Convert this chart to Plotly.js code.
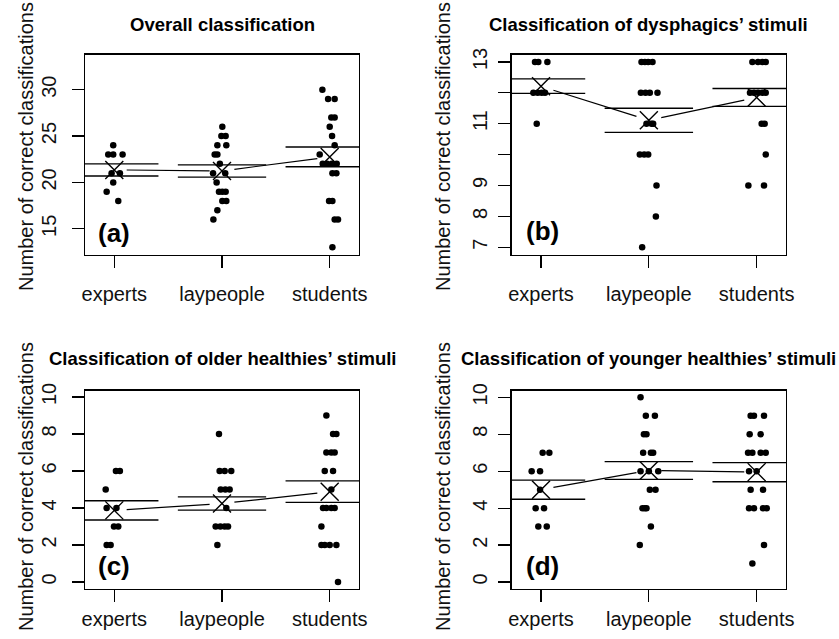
<!DOCTYPE html>
<html>
<head>
<meta charset="utf-8">
<script src="https://cdn.plot.ly/plotly-3.0.1.min.js"></script>
<style>html,body{margin:0;padding:0;background:#fff;}#chart{width:839px;height:639px;}</style>
</head>
<body>
<div id="chart"></div>
<script>
// ---------------- DATA ----------------
const groups = ["experts", "laypeople", "students"];
const groupPos = [1, 2, 3];

// (a) Overall classification
const overallExperts    = [24, 23, 23, 23, 21, 21, 20, 19, 18];
const overallExpertsJit = [-0.01, -0.056, -0.01, 0.077, -0.025, 0.052, -0.01, -0.071, 0.037];
const overallLay        = [26, 25, 25, 24, 24, 23, 23, 22, 21, 21, 20, 19, 19, 19, 18, 18, 17, 16];
const overallLayJit     = [0.003, -0.006, 0.034, -0.043, 0.04, -0.068, -0.043, -0.02, -0.083, 0.03, -0.05, -0.028, 0.003, 0.034, 0.003, 0.04, -0.043, -0.08];
const overallStud       = [30, 29, 29, 27, 27, 26, 25, 24, 23, 22, 22, 22, 22, 21, 21, 18, 18, 16, 16, 13];
const overallStudJit    = [-0.068, -0.015, 0.046, 0.015, 0.046, 0, 0.022, 0.046, -0.093, -0.065, -0.025, 0.02, 0.065, 0.025, 0.062, -0.006, 0.025, 0.046, 0.077, 0.025];
const overallMean  = [21.35, 21.24, 22.75];
const overallUpper = [22.01, 21.90, 23.82];
const overallLower = [20.69, 20.58, 21.69];

// (b) Classification of dysphagics' stimuli
const dysExperts    = [13, 13, 13, 12, 12, 12, 12, 11];
const dysExpertsJit = [-0.056, -0.025, 0.059, -0.071, -0.031, 0.006, 0.037, -0.04];
const dysLay        = [13, 13, 13, 13, 12, 12, 12, 12, 11, 11, 11, 10, 10, 10, 9, 8, 7];
const dysLayJit     = [-0.068, -0.037, -0.006, 0.034, -0.074, -0.031, 0.009, 0.08, -0.022, 0.025, 0.04, -0.084, -0.043, -0.006, 0.071, 0.065, -0.062];
const dysStud       = [13, 13, 13, 13, 12, 12, 12, 12, 12, 11, 11, 10, 9, 9];
const dysStudJit    = [-0.04, 0.012, 0.053, 0.084, -0.062, -0.025, 0.012, 0.053, 0.084, 0.046, 0.074, 0.084, -0.077, 0.068];
const dysMean  = [12.21, 11.11, 11.85];
const dysUpper = [12.45, 11.50, 12.14];
const dysLower = [11.98, 10.72, 11.56];

// (c) Classification of older healthies' stimuli
const oldExperts    = [6, 6, 5, 4, 4, 3, 3, 2, 2];
const oldExpertsJit = [0.015, 0.052, -0.08, -0.071, 0.02, -0.003, 0.037, -0.071, -0.034];
const oldLay        = [8, 6, 6, 6, 5, 5, 5, 4, 3, 3, 3, 3, 2];
const oldLayJit     = [-0.028, -0.022, 0.025, 0.086, -0.012, 0.031, 0.071, 0.04, -0.059, -0.015, 0.025, 0.056, -0.043];
const oldStud       = [9, 8, 8, 7, 7, 7, 6, 6, 5, 4, 4, 4, 4, 3, 2, 2, 2, 2, 0];
const oldStudJit    = [-0.031, 0.031, 0.062, -0.031, 0.015, 0.046, -0.046, 0.031, 0.015, -0.062, -0.031, 0.015, 0.046, -0.077, -0.077, -0.046, 0, 0.062, 0.077];
const oldMean  = [3.87, 4.24, 4.88];
const oldUpper = [4.39, 4.60, 5.47];
const oldLower = [3.35, 3.88, 4.30];

// (d) Classification of younger healthies' stimuli
const youngExperts    = [7, 7, 6, 6, 5, 4, 4, 3, 3];
const youngExpertsJit = [0.015, 0.077, -0.087, -0.009, -0.009, -0.05, 0.028, -0.025, 0.053];
const youngLay        = [10, 9, 9, 8, 8, 7, 7, 7, 6, 6, 6, 5, 5, 4, 4, 4, 3, 2];
const youngLayJit     = [-0.077, -0.028, 0.056, -0.046, -0.022, -0.053, 0.019, 0.04, -0.077, 0, 0.087, 0.009, 0.062, -0.059, -0.037, -0.022, 0.019, -0.084];
const youngStud       = [9, 9, 9, 8, 8, 7, 7, 7, 7, 6, 6, 5, 5, 4, 4, 4, 4, 2, 1];
const youngStudJit    = [-0.056, -0.025, 0.068, -0.065, 0.037, -0.08, -0.04, 0.037, 0.084, -0.071, 0, -0.056, 0.059, -0.071, -0.025, 0.059, 0.093, 0.068, -0.04];
const youngMean  = [5.00, 6.04, 5.95];
const youngUpper = [5.52, 6.52, 6.46];
const youngLower = [4.48, 5.56, 5.43];

const panelTitles = ["Overall classification", "Classification of dysphagics\u2019 stimuli",
                     "Classification of older healthies\u2019 stimuli", "Classification of younger healthies\u2019 stimuli"];
const panelTags = ["(a)", "(b)", "(c)", "(d)"];
const yLabel = "Number of correct classifications";

// ---------------- LAYOUT GEOMETRY ----------------
const W = 839, H = 639;
const px = v => v / W;
const py = v => 1 - v / H;
const FONT = "Liberation Sans, Arial, Helvetica, sans-serif";

const panels = [
  { scores: [overallExperts, overallLay, overallStud], jit: [overallExpertsJit, overallLayJit, overallStudJit],
    mean: overallMean, upper: overallUpper, lower: overallLower,
    xk: "x", yk: "y", xdom: [85, 359], ydom: [54.5, 254.7], yrange: [12.2, 33.8],
    yticks: [15, 20, 25, 30], ytext: ["15", "20", "25", "30"],
    titleX: 222, titleY: 24.5, ylabX: 26, ylabY: 147, tagX: 96, tagY: 233, xstand: 9, ystand: 8 },
  { scores: [dysExperts, dysLay, dysStud], jit: [dysExpertsJit, dysLayJit, dysStudJit],
    mean: dysMean, upper: dysUpper, lower: dysLower,
    xk: "x2", yk: "y2", xdom: [511.7, 786], ydom: [54.5, 254.7], yrange: [6.76, 13.24],
    yticks: [7, 8, 9, 10, 11, 12, 13], ytext: ["7", "8", "9", "", "11", "", "13"],
    titleX: 648, titleY: 24.5, ylabX: 443, ylabY: 147, tagX: 524, tagY: 231, xstand: 9, ystand: 3 },
  { scores: [oldExperts, oldLay, oldStud], jit: [oldExpertsJit, oldLayJit, oldStudJit],
    mean: oldMean, upper: oldUpper, lower: oldLower,
    xk: "x3", yk: "y3", xdom: [85, 359], ydom: [390.7, 589], yrange: [-0.38, 10.34],
    yticks: [0, 2, 4, 6, 8, 10], ytext: ["0", "2", "4", "6", "8", "10"],
    titleX: 222, titleY: 358.5, ylabX: 26, ylabY: 487, tagX: 96, tagY: 566, xstand: 0, ystand: 8 },
  { scores: [youngExperts, youngLay, youngStud], jit: [youngExpertsJit, youngLayJit, youngStudJit],
    mean: youngMean, upper: youngUpper, lower: youngLower,
    xk: "x4", yk: "y4", xdom: [511.7, 786], ydom: [390.7, 589], yrange: [-0.38, 10.36],
    yticks: [0, 2, 4, 6, 8, 10], ytext: ["0", "2", "4", "6", "8", "10"],
    titleX: 648, titleY: 358.5, ylabX: 443, ylabY: 487, tagX: 524, tagY: 566, xstand: 0, ystand: 3 }
];

const CI_HALF = 0.41;   // half-length of the horizontal interval lines
const GAP = 0.115;      // fraction of segment left open around each mean marker

const traces = [];
const layout = {
  width: W, height: H, margin: { l: 0, r: 0, t: 0, b: 0 },
  paper_bgcolor: "#ffffff", plot_bgcolor: "#ffffff",
  showlegend: false, font: { family: FONT, color: "#000" },
  annotations: []
};

panels.forEach((p, i) => {
  // jittered points
  const xs = [], ys = [];
  p.scores.forEach((vals, g) => vals.forEach((v, k) => { xs.push(groupPos[g] + p.jit[g][k]); ys.push(v); }));
  traces.push({ type: "scatter", mode: "markers", x: xs, y: ys, xaxis: p.xk, yaxis: p.yk,
    marker: { color: "#000", size: 6.5, line: { width: 0 } }, hoverinfo: "skip" });

  // interval lines (upper and lower) per group
  const lx = [], ly = [];
  groupPos.forEach((g, j) => {
    [p.upper[j], p.lower[j]].forEach(v => { lx.push(g - CI_HALF, g + CI_HALF, null); ly.push(v, v, null); });
  });
  traces.push({ type: "scatter", mode: "lines", x: lx, y: ly, xaxis: p.xk, yaxis: p.yk,
    line: { color: "#000", width: 1.3 }, hoverinfo: "skip", connectgaps: false });

  // line joining means, with gaps around the markers
  const mx = [], my = [];
  for (let j = 0; j < groupPos.length - 1; j++) {
    const x0 = groupPos[j], x1 = groupPos[j + 1], y0 = p.mean[j], y1 = p.mean[j + 1];
    mx.push(x0 + GAP * (x1 - x0), x1 - GAP * (x1 - x0), null);
    my.push(y0 + GAP * (y1 - y0), y1 - GAP * (y1 - y0), null);
  }
  traces.push({ type: "scatter", mode: "lines", x: mx, y: my, xaxis: p.xk, yaxis: p.yk,
    line: { color: "#000", width: 1.2 }, hoverinfo: "skip", connectgaps: false });

  // mean markers
  traces.push({ type: "scatter", mode: "markers", x: groupPos, y: p.mean, xaxis: p.xk, yaxis: p.yk,
    marker: { symbol: "x-thin-open", size: 18, color: "#000", line: { color: "#000", width: 1.4 } },
    hoverinfo: "skip" });

  const xName = "xaxis" + (i === 0 ? "" : (i + 1));
  const yName = "yaxis" + (i === 0 ? "" : (i + 1));
  layout[xName] = {
    domain: [px(p.xdom[0]), px(p.xdom[1])], anchor: p.yk, range: [0.728, 3.272],
    tickvals: groupPos, ticktext: groups, ticks: "outside", ticklen: 12, tickwidth: 1.2, tickcolor: "#000",
    showline: true, linecolor: "#000", linewidth: 1.4, mirror: true, showgrid: false, zeroline: false,
    tickfont: { family: FONT, size: 20, color: "#111" }, ticklabelstandoff: p.xstand, fixedrange: true
  };
  layout[yName] = {
    domain: [py(p.ydom[1]), py(p.ydom[0])], anchor: p.xk, range: p.yrange,
    tickvals: p.yticks, ticktext: p.ytext, tickangle: -90, ticks: "outside", ticklen: 12, tickwidth: 1.2, tickcolor: "#000",
    showline: true, linecolor: "#000", linewidth: 1.4, mirror: true, showgrid: false, zeroline: false,
    tickfont: { family: FONT, size: 20, color: "#111" }, ticklabelstandoff: p.ystand, fixedrange: true
  };

  layout.annotations.push(
    { text: panelTitles[i], xref: "paper", yref: "paper", x: px(p.titleX), y: py(p.titleY),
      xanchor: "center", yanchor: "middle", showarrow: false,
      font: { family: FONT, size: 18.5, color: "#000", weight: "bold" } },
    { text: yLabel, xref: "paper", yref: "paper", x: px(p.ylabX), y: py(p.ylabY), textangle: -90,
      xanchor: "center", yanchor: "middle", showarrow: false,
      font: { family: FONT, size: 20, color: "#111" } },
    { text: panelTags[i], xref: "paper", yref: "paper", x: px(p.tagX), y: py(p.tagY),
      xanchor: "left", yanchor: "middle", showarrow: false,
      font: { family: FONT, size: 26, color: "#000", weight: "bold" } }
  );
});

Plotly.newPlot("chart", traces, layout, { staticPlot: true, displayModeBar: false });
</script>
</body>
</html>
